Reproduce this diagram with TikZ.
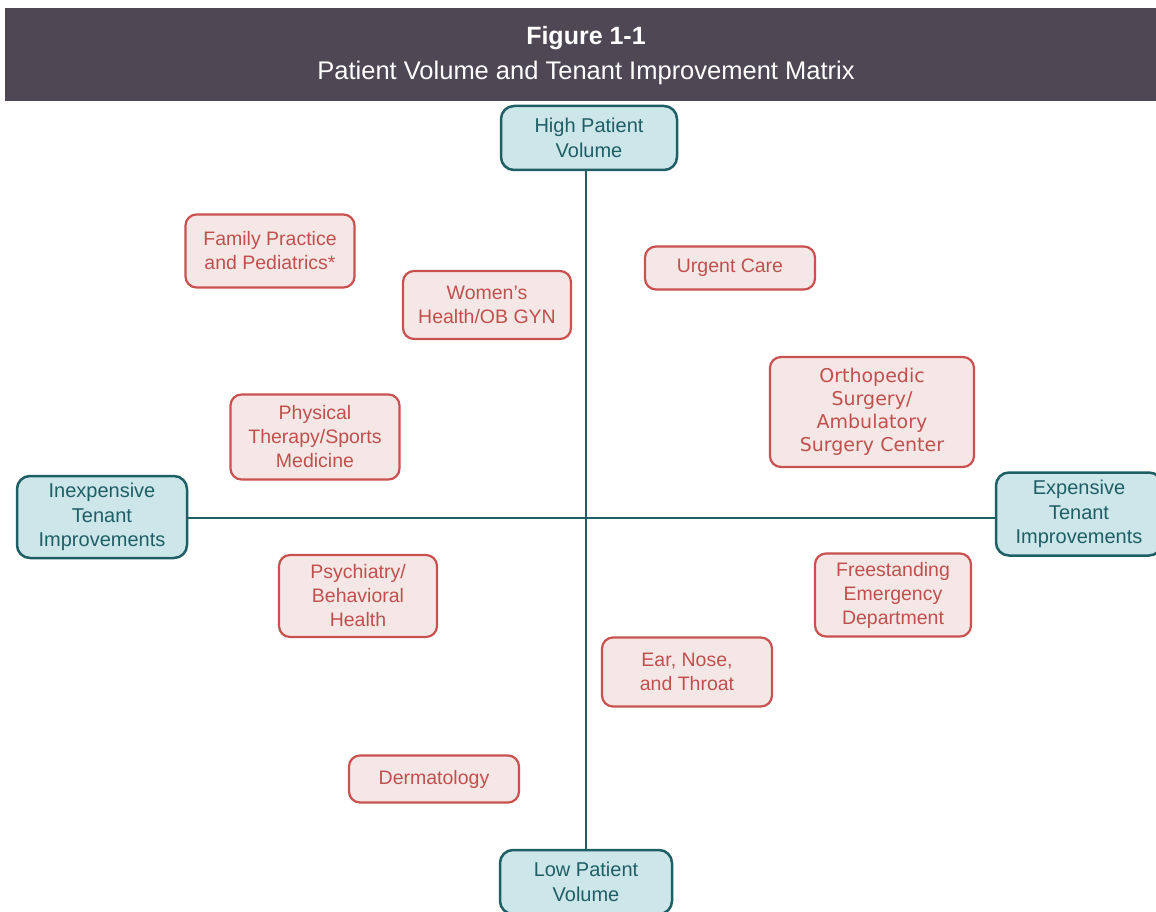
\documentclass[tikz,border=0pt]{standalone}
\usepackage{fontspec}
\setmainfont{Liberation Sans}
\newfontfamily\verdanalike{DejaVu Sans}
\usetikzlibrary{positioning}
\definecolor{titlebg}{HTML}{4E4854}
\definecolor{axisline}{HTML}{1E5F66}
\definecolor{axisfill}{HTML}{CDE6E9}
\definecolor{specline}{HTML}{C9514F}
\definecolor{specfill}{HTML}{F5E7E6}
\definecolor{spectext}{HTML}{C0504D}
\tikzset{
  axisbox/.style={draw=axisline,fill=axisfill,line width=2.5pt,rounded corners=13pt,
    text=axisline,align=center,font=\fontsize{20}{24.5}\selectfont,inner sep=0pt},
  specbox/.style={draw=specline,fill=specfill,line width=2.2pt,rounded corners=11pt,
    text=spectext,align=center,font=\fontsize{19.5}{24}\selectfont,inner sep=0pt},
}

\begin{document}
\begin{tikzpicture}[x=1pt,y=-1pt]
\useasboundingbox[fill=white] (0,0) rectangle (1156,912);
% title bar
\fill[titlebg] (5,8) rectangle (1156,101);
\node[text=white,font=\bfseries\fontsize{25}{28}\selectfont] (fig) at (586,38) {Figure 1-1};
\node[text=white,font=\fontsize{25.5}{28}\selectfont] (title) at (586,73) {Patient Volume and Tenant Improvement Matrix};
% axis ends
\node[axisbox,minimum width=176pt,minimum height=64pt] (high) at (589,138) {High Patient\\Volume};
\node[axisbox,minimum width=172pt,minimum height=64pt] (low) at (586,882) {Low Patient\\Volume};
\node[axisbox,minimum width=170pt,minimum height=82pt] (cheap) at (102,517) {Inexpensive\\Tenant\\Improvements};
\node[axisbox,minimum width=166pt,minimum height=83pt] (dear) at (1079,514) {Expensive\\Tenant\\Improvements};
\coordinate (mid) at (586,518);
\draw[axisline,line width=2.2pt] (high.south -| mid) -- (low.north -| mid);
\draw[axisline,line width=2.2pt] (cheap.east |- mid) -- (dear.west |- mid);
% specialties
\node[specbox,minimum width=169pt,minimum height=73pt] (family) at (270,251) {Family Practice\\and Pediatrics*};
\node[specbox,minimum width=168pt,minimum height=68pt] (women) at (487,305) {Women's\\Health/OB GYN};
\node[specbox,minimum width=170pt,minimum height=43pt] (urgent) at (730,268) {Urgent Care};
\node[specbox,minimum width=204pt,minimum height=110pt,font=\verdanalike\fontsize{19}{23}\selectfont] (ortho) at (872,412) {Orthopedic\\Surgery/\\Ambulatory\\Surgery Center};
\node[specbox,minimum width=169pt,minimum height=85pt] (physio) at (315,437) {Physical\\Therapy/Sports\\Medicine};
\node[specbox,minimum width=158pt,minimum height=82pt] (psych) at (358,596) {Psychiatry/\\Behavioral\\Health};
\node[specbox,minimum width=156pt,minimum height=83pt] (er) at (893,595) {Freestanding\\Emergency\\Department};
\node[specbox,minimum width=170pt,minimum height=69pt] (ent) at (687,672) {Ear, Nose,\\and Throat};
\node[specbox,minimum width=170pt,minimum height=47pt] (derm) at (434,779) {Dermatology};
\end{tikzpicture}
\end{document}
